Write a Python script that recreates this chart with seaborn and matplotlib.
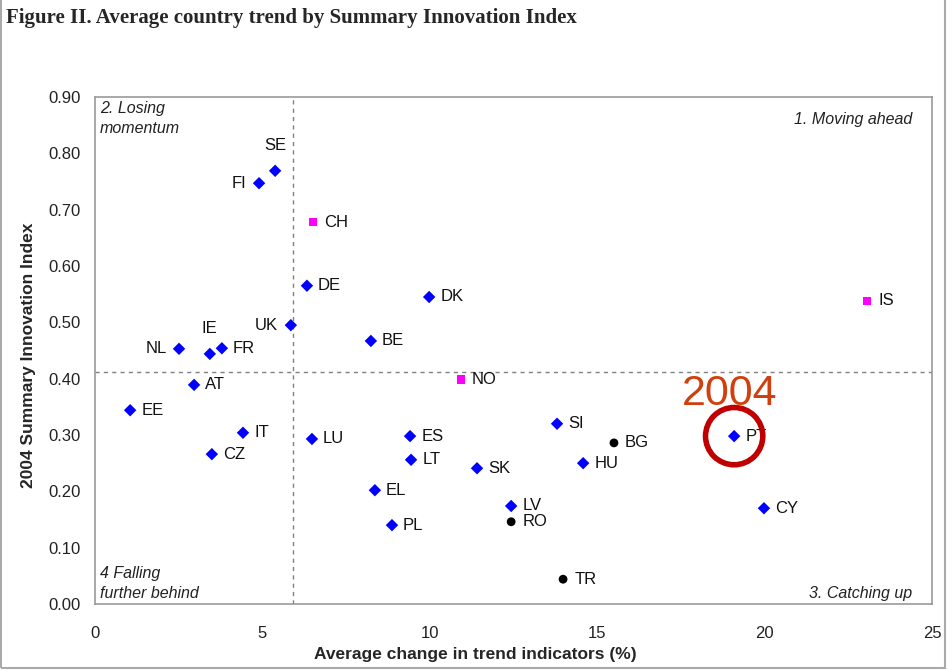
import matplotlib
matplotlib.use("Agg")
import matplotlib.pyplot as plt
import seaborn as sns
import pandas as pd
from matplotlib.patches import Rectangle

# data
countries = ["SE", "FI", "CH", "DE", "DK", "UK", "BE", "IE", "FR", "NL",
             "IS", "NO", "AT", "EE", "IT", "CZ", "LU", "ES", "LT", "SK",
             "SI", "BG", "HU", "PT", "CY", "LV", "RO", "TR", "EL", "PL"]
trend = [5.38, 4.90, 6.51, 6.33, 9.98, 5.85, 8.24, 3.43, 3.79, 2.51,
         23.06, 10.93, 2.96, 1.05, 4.42, 3.49, 6.48, 9.41, 9.44, 11.41,
         13.80, 15.50, 14.58, 19.09, 19.98, 12.43, 12.43, 13.98, 8.36, 8.87]
sii = [0.769, 0.747, 0.678, 0.565, 0.545, 0.495, 0.467, 0.444, 0.454, 0.453,
       0.538, 0.399, 0.389, 0.344, 0.304, 0.266, 0.293, 0.298, 0.256, 0.241,
       0.320, 0.286, 0.250, 0.298, 0.170, 0.174, 0.146, 0.044, 0.202, 0.140]
group = ["EU", "EU", "Other", "EU", "EU", "EU", "EU", "EU", "EU", "EU",
         "Other", "Other", "EU", "EU", "EU", "EU", "EU", "EU", "EU", "EU",
         "EU", "Candidate", "EU", "EU", "EU", "EU", "Candidate", "Candidate", "EU", "EU"]
mean_trend = 5.91
mean_sii = 0.412
highlight = "PT"

df = pd.DataFrame({"country": countries, "trend": trend, "sii": sii, "group": group})

# where labels sit relative to the marker
left_labels = ["FI", "UK", "NL"]
top_labels = ["SE", "IE"]

sns.set_style("white")
plt.rcParams["font.family"] = ["Liberation Sans", "DejaVu Sans"]

fig = plt.figure(figsize=(9.47, 6.70), dpi=100)
ax = fig.add_axes([0.1003, 0.0985, 0.8839, 0.7567])

sns.scatterplot(data=df, x="trend", y="sii", hue="group", style="group",
                palette={"EU": "#0000ff", "Other": "#ff00ff", "Candidate": "#000000"},
                markers={"EU": "D", "Other": "s", "Candidate": "o"},
                s=40, linewidth=0, legend=False, ax=ax, zorder=3)

for c, xv, yv in zip(countries, trend, sii):
    if c in left_labels:
        ax.annotate(c, (xv, yv), xytext=(-9, 0), textcoords="offset points",
                    ha="right", va="center", fontsize=12, color="#111111")
    elif c in top_labels:
        ax.annotate(c, (xv, yv), xytext=(0, 13), textcoords="offset points",
                    ha="center", va="bottom", fontsize=12, color="#111111")
    else:
        ax.annotate(c, (xv, yv), xytext=(8, 0), textcoords="offset points",
                    ha="left", va="center", fontsize=12, color="#111111")

# quadrant lines
ax.axvline(mean_trend, color="#808080", ls=(0, (3, 3)), lw=1, zorder=1)
ax.axhline(mean_sii, color="#808080", ls=(0, (3, 3)), lw=1, zorder=1)

# quadrant names
qstyle = dict(fontsize=11.5, style="italic", color="#222222")
ax.text(0.006, 0.992, "2. Losing\nmomentum", transform=ax.transAxes, va="top", ha="left",
        linespacing=1.45, **qstyle)
ax.text(0.976, 0.97, "1. Moving ahead", transform=ax.transAxes, va="top", ha="right", **qstyle)
ax.text(0.006, 0.006, "4 Falling\nfurther behind", transform=ax.transAxes, va="bottom", ha="left",
        linespacing=1.45, **qstyle)
ax.text(0.976, 0.006, "3. Catching up", transform=ax.transAxes, va="bottom", ha="right", **qstyle)

# highlight circle and year
ix = countries.index(highlight)
ax.scatter([trend[ix]], [sii[ix]], s=1700, facecolors="none", edgecolors="#c00000",
           linewidths=4, zorder=4)
ax.annotate("2004", (trend[ix], sii[ix]), xytext=(-3, 16), textcoords="offset points",
            ha="center", va="bottom", fontsize=31, color="#d0400f", zorder=5)

ax.set_xlim(0, 25)
ax.set_ylim(0, 0.90)
ax.set_xticks([0, 5, 10, 15, 20, 25])
ax.set_yticks([i / 10 for i in range(10)])
ax.set_yticklabels([f"{i / 10:.2f}" for i in range(10)])
ax.tick_params(length=0, labelsize=12, colors="#222222")
ax.tick_params(axis="x", pad=16)
ax.tick_params(axis="y", pad=10)
ax.set_xlabel("Average change in trend indicators (%)", fontsize=12.5, fontweight="bold")
ax.set_ylabel("2004 Summary Innovation Index", fontsize=12.5, fontweight="bold")
ax.xaxis.set_label_coords(0.454, -0.085)
ax.yaxis.set_label_coords(-0.07, 0.49)
for sp in ax.spines.values():
    sp.set_color("#999999")
    sp.set_linewidth(1.2)

fig.text(0.006, 0.988, "Figure II. Average country trend by Summary Innovation Index",
         family=["Liberation Serif", "DejaVu Serif"], fontweight="bold", fontsize=15,
         ha="left", va="top")

# outer frame of the picture
fig.patches.append(Rectangle((0.001, 0.003), 0.997, 1.2, transform=fig.transFigure,
                             fill=False, edgecolor="#aaaaaa", lw=1.5))

fig.savefig("out.png", dpi=100)
